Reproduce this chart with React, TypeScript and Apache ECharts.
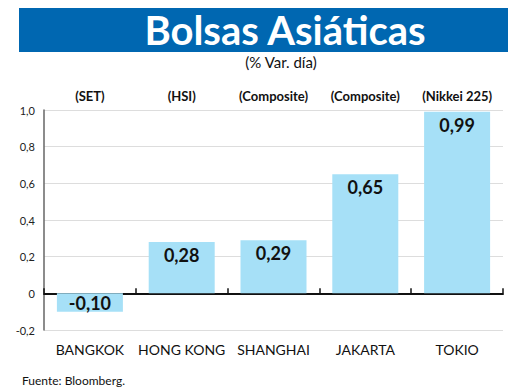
import React, { useEffect, useRef } from "react";
import * as echarts from "echarts";

const categories = ["BANGKOK", "HONG KONG", "SHANGHAI", "JAKARTA", "TOKIO"];
const indexNames = ["(SET)", "(HSI)", "(Composite)", "(Composite)", "(Nikkei 225)"];
const values = [-0.1, 0.28, 0.29, 0.65, 0.99];
const yTicks = { min: -0.2, max: 1.0, interval: 0.2 };

const FONT = "Lato, 'Open Sans', sans-serif";

export default function App() {
  const ref = useRef<HTMLDivElement>(null);
  useEffect(() => {
    if (!ref.current) return;
    const chart = echarts.init(ref.current, null, { renderer: "svg" });
    const fmt = (v: number) => v.toFixed(2).replace(".", ",");
    const gridBox = { left: 44, right: 17, top: 110, bottom: 60, containLabel: false };
    chart.setOption({
      animation: false,
      backgroundColor: "#ffffff",
      graphic: [
        { type: "rect", shape: { x: 19, y: 8, width: 489, height: 44 }, style: { fill: "#0067B1" } },
        {
          type: "text",
          x: 285,
          y: 30,
          style: {
            text: "Bolsas Asiáticas",
            fill: "#ffffff",
            font: `bold 40px ${FONT}`,
            textAlign: "center",
            textVerticalAlign: "middle",
          },
        },
        {
          type: "text",
          x: 281,
          y: 62,
          style: {
            text: "(% Var. día)",
            fill: "#111111",
            font: `15px ${FONT}`,
            textAlign: "center",
            textVerticalAlign: "middle",
          },
        },
        {
          type: "text",
          x: 22,
          y: 380,
          style: {
            text: "Fuente: Bloomberg.",
            fill: "#111111",
            font: `12px ${FONT}`,
            textAlign: "left",
            textVerticalAlign: "middle",
          },
        },
      ],
      grid: [gridBox, gridBox],
      xAxis: [
        {
          type: "category",
          gridIndex: 0,
          data: categories,
          position: "bottom",
          axisLine: { show: false, onZero: false },
          axisTick: { show: false },
          axisLabel: { color: "#111", fontFamily: FONT, fontSize: 14, margin: 12, interval: 0 },
        },
        {
          type: "category",
          gridIndex: 0,
          data: indexNames.map((_, i) => i),
          position: "top",
          axisLine: { show: false, onZero: false },
          axisTick: { show: false },
          axisLabel: {
            color: "#111",
            fontFamily: FONT,
            fontSize: 13,
            fontWeight: "bold",
            margin: 8,
            interval: 0,
            formatter: (v: string) => indexNames[Number(v)],
          },
        },
        {
          type: "category",
          gridIndex: 1,
          data: categories,
          position: "bottom",
          axisLine: { show: true, onZero: true, lineStyle: { color: "#111", width: 2 } },
          axisTick: { show: true, inside: true, interval: 0, length: 5, lineStyle: { color: "#111", width: 1.5 } },
          axisLabel: { show: false },
          splitLine: { show: false },
        },
      ],
      yAxis: [
        {
          type: "value",
          gridIndex: 0,
          min: yTicks.min,
          max: yTicks.max,
          interval: yTicks.interval,
          axisLine: { show: true, lineStyle: { color: "#666", width: 1.5 } },
          axisTick: { show: false },
          splitLine: { lineStyle: { color: "#dddddd", width: 1 } },
          axisLabel: {
            color: "#222",
            fontFamily: FONT,
            fontSize: 11,
            margin: 9,
            formatter: (v: number) => (Math.abs(v) < 1e-9 ? "0" : v.toFixed(1).replace(".", ",")),
          },
        },
        {
          type: "value",
          gridIndex: 1,
          min: yTicks.min,
          max: yTicks.max,
          interval: yTicks.interval,
          axisLine: { show: false },
          axisTick: { show: false },
          splitLine: { show: false },
          axisLabel: { show: false },
        },
      ],
      series: [
        {
          type: "bar",
          xAxisIndex: 0,
          yAxisIndex: 0,
          data: values.map((v) => ({
            value: v,
            label: { position: v < 0 ? "inside" : "insideTop" },
          })),
          barWidth: 66,
          itemStyle: { color: "#A6E0F7" },
          label: {
            show: true,
            color: "#111",
            fontFamily: FONT,
            fontSize: 18,
            fontWeight: "bold",
            distance: 4,
            formatter: (p: any) => fmt(p.value),
          },
        },
        {
          type: "line",
          xAxisIndex: 2,
          yAxisIndex: 1,
          data: [],
          silent: true,
        },
      ],
    });
    return () => chart.dispose();
  }, []);
  return <div ref={ref} style={{ position: "fixed", left: 0, top: 0, width: 520, height: 390 }} />;
}
